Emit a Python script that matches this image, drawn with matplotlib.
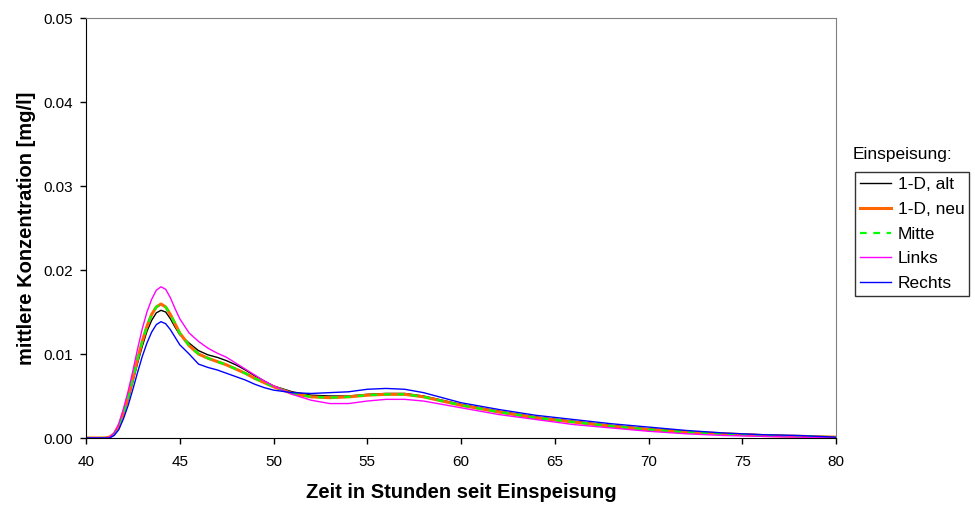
import matplotlib
matplotlib.use("Agg")
import matplotlib.pyplot as plt

plt.rcParams['font.family'] = ['Liberation Sans', 'DejaVu Sans']

hours = [40, 41, 41.25, 41.5, 41.75, 42, 42.25, 42.5, 42.75, 43, 43.25, 43.5, 43.75, 44,
         44.25, 44.5, 44.75, 45, 45.5, 46, 46.5, 47, 47.5, 48, 48.5, 49, 49.5, 50,
         51, 52, 53, 54, 55, 56, 57, 58, 59, 60, 62, 64, 66, 68, 70, 72, 74, 76, 78, 80]

alt_1d = [0, 0, 0.0001, 0.0005, 0.0013, 0.0028, 0.0046, 0.0067, 0.0089, 0.0109, 0.0127, 0.0140,
          0.0149, 0.0152, 0.0150, 0.0142, 0.0132, 0.0123, 0.0113, 0.0104, 0.0099, 0.0096, 0.0092,
          0.0087, 0.0081, 0.0074, 0.0068, 0.0062,
          0.0055, 0.0051, 0.0050, 0.0050, 0.0052, 0.0053, 0.0053, 0.0050, 0.0045, 0.0040,
          0.0032, 0.0025, 0.0020, 0.0015, 0.0011, 0.0008, 0.0005, 0.0004, 0.0002, 0.0001]
neu_1d = [0, 0, 0.0001, 0.0005, 0.0014, 0.0030, 0.0049, 0.0071, 0.0094, 0.0115, 0.0133, 0.0147,
          0.0156, 0.01595, 0.0156, 0.0147, 0.0136, 0.0125, 0.0110, 0.0100, 0.0095, 0.0091, 0.0087,
          0.0082, 0.0077, 0.0071, 0.0066, 0.0061,
          0.0053, 0.0049, 0.0048, 0.0049, 0.0051, 0.0052, 0.0052, 0.0049, 0.0044, 0.0039,
          0.0031, 0.0024, 0.0019, 0.0014, 0.0010, 0.0007, 0.0005, 0.0003, 0.0002, 0.0001]
mitte = [0, 0, 0.0001, 0.0005, 0.0014, 0.0030, 0.0049, 0.0071, 0.0094, 0.0115, 0.0133, 0.0147,
         0.0156, 0.01595, 0.0156, 0.0147, 0.0136, 0.0125, 0.0110, 0.0100, 0.0095, 0.0091, 0.0087,
         0.0082, 0.0077, 0.0071, 0.0066, 0.0061,
         0.0053, 0.0049, 0.0048, 0.0049, 0.0051, 0.0052, 0.0052, 0.0049, 0.0044, 0.0039,
         0.0031, 0.0024, 0.0019, 0.0014, 0.0010, 0.0007, 0.0005, 0.0003, 0.0002, 0.0001]
links = [0, 0, 0.0001, 0.0006, 0.0017, 0.0035, 0.0056, 0.0080, 0.0106, 0.0130, 0.0150, 0.0165,
         0.0176, 0.0180, 0.0177, 0.0167, 0.0154, 0.0142, 0.0125, 0.0115, 0.0107, 0.0101, 0.0096,
         0.0089, 0.0082, 0.0075, 0.0068, 0.0062,
         0.0052, 0.0045, 0.0041, 0.0041, 0.0044, 0.0046, 0.0046, 0.0044, 0.0040, 0.0036,
         0.0028, 0.0022, 0.0016, 0.0012, 0.0008, 0.0005, 0.0003, 0.0002, 0.0001, 0.0000]
rechts = [0, 0, 0.0000, 0.0003, 0.0010, 0.0023, 0.0039, 0.0058, 0.0078, 0.0097, 0.0113, 0.0126,
          0.0135, 0.01385, 0.0136, 0.0129, 0.0120, 0.0111, 0.0100, 0.0088, 0.0084, 0.0081, 0.0077,
          0.0073, 0.0069, 0.0064, 0.0060, 0.0057,
          0.0054, 0.0053, 0.0054, 0.0055, 0.0058, 0.0059, 0.0058, 0.0054, 0.0048, 0.0042,
          0.0034, 0.0027, 0.0022, 0.0017, 0.0013, 0.0009, 0.0006, 0.0004, 0.0003, 0.0001]

x_ticks = [40, 45, 50, 55, 60, 65, 70, 75, 80]
y_ticks = [0.00, 0.01, 0.02, 0.03, 0.04, 0.05]

fig = plt.figure(figsize=(9.75, 5.05), dpi=100)
ax = fig.add_axes([86/975, 67/505, 750/975, 420/505])

ax.plot(hours, alt_1d, color='black', lw=1.0, label='1-D, alt')
ax.plot(hours, neu_1d, color='#FF6600', lw=2.2, label='1-D, neu')
ax.plot(hours, mitte, color='#00FF00', lw=1.6, ls=(0, (3, 3)), label='Mitte')
ax.plot(hours, links, color='#FF00FF', lw=1.0, label='Links')
ax.plot(hours, rechts, color='#0000FF', lw=1.0, label='Rechts')

ax.set_xlim(40, 80)
ax.set_ylim(0, 0.05)
ax.set_xticks(x_ticks)
ax.set_yticks(y_ticks)
ax.set_yticklabels([f"{v:.2f}" for v in y_ticks])
ax.tick_params(direction='out', length=4.5, width=1, labelsize=11)
ax.tick_params(axis='x', pad=7.5)
ax.tick_params(axis='y', pad=5)
for s in ['top', 'right']:
    ax.spines[s].set_color('#808080')
ax.spines['left'].set_color('black')
ax.spines['bottom'].set_color('black')

ax.set_xlabel('Zeit in Stunden seit Einspeisung', fontsize=14.5, fontweight='bold', labelpad=10)
ax.set_ylabel('mittlere Konzentration [mg/l]', fontsize=14.5, fontweight='bold', labelpad=5)

leg = ax.legend(loc='upper left', bbox_to_anchor=(855/975, 1 - 172/505),
                bbox_transform=fig.transFigure, fontsize=12.5, frameon=True,
                fancybox=False, edgecolor='black', handlelength=1.8, handletextpad=0.35,
                borderpad=0.3, labelspacing=0.55, borderaxespad=0)
leg.get_frame().set_linewidth(1.0)
fig.text(853/975, 1 - 154/505, 'Einspeisung:', fontsize=12.5, va='center', ha='left')

fig.savefig('out.png', dpi=100)
